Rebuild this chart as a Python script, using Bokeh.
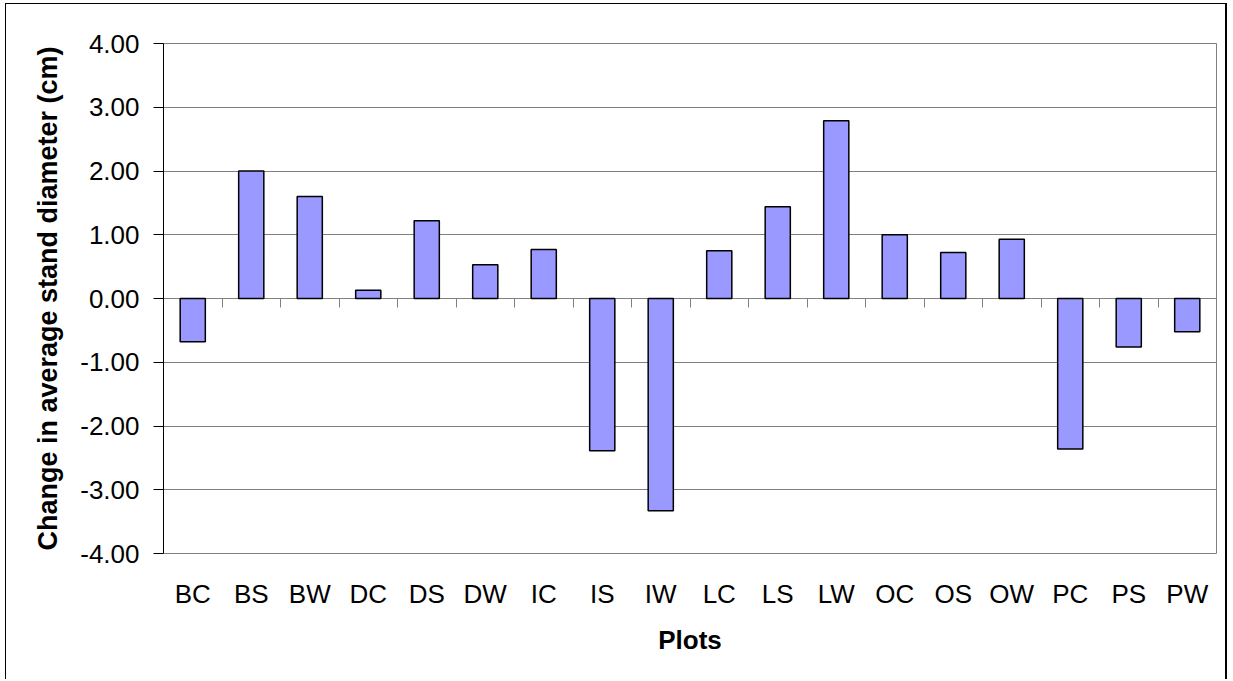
from bokeh.plotting import figure
from bokeh.models import (ColumnDataSource, Range1d, LinearAxis,
                          FixedTicker, NumeralTickFormatter, CustomJSTickFormatter)
from bokeh.embed import file_html
from bokeh.resources import INLINE

categories = ["BC", "BS", "BW", "DC", "DS", "DW", "IC", "IS", "IW",
              "LC", "LS", "LW", "OC", "OS", "OW", "PC", "PS", "PW"]
values = [-0.68, 2.00, 1.60, 0.13, 1.22, 0.53, 0.77, -2.39, -3.33,
          0.75, 1.44, 2.79, 1.00, 0.72, 0.93, -2.36, -0.76, -0.52]
y_ticks = [-4, -3, -2, -1, 0, 1, 2, 3, 4]
y_title = "Change in average stand diameter (cm)"
x_title = "Plots"

FONT = "Liberation Sans"

n = len(categories)
centers = [i + 0.5 for i in range(n)]
bounds = list(range(n + 1))

src = ColumnDataSource(data=dict(x=centers, cat=categories, val=values))

p = figure(
    x_range=Range1d(0, n),
    y_range=Range1d(y_ticks[0], y_ticks[-1]),
    width=1222, height=676,
    output_backend="svg", toolbar_location=None,
    min_border_left=157, min_border_right=12,
    min_border_top=39, min_border_bottom=127,
    background_fill_color="white", border_fill_color="white",
)
p.styles = {"margin-left": "5px", "margin-top": "3px",
            "border-left": "1px solid black", "border-top": "1px solid black",
            "border-right": "2px solid black"}

p.outline_line_color = "#808080"
p.outline_line_width = 1

p.vbar(x="x", top="val", bottom=0, width=0.43, source=src,
       fill_color="#9999FF", line_color="black", line_width=1.5)

# grid
p.xgrid.visible = False
p.ygrid.ticker = FixedTicker(ticks=y_ticks)
p.ygrid.grid_line_color = "#808080"
p.ygrid.grid_line_width = 1

# y axis
ya = p.yaxis[0]
ya.ticker = FixedTicker(ticks=y_ticks)
ya.formatter = NumeralTickFormatter(format="0.00")
ya.axis_line_color = "black"
ya.major_tick_line_color = "black"
ya.major_tick_out = 10
ya.major_tick_in = 0
ya.minor_tick_line_color = None
ya.major_label_standoff = 14
ya.major_label_text_font = FONT
ya.major_label_text_font_size = "26px"
ya.major_label_text_color = "black"
ya.axis_label = y_title
ya.axis_label_text_font = FONT
ya.axis_label_text_font_size = "27px"
ya.axis_label_text_font_style = "bold"
ya.axis_label_text_color = "black"
ya.axis_label_standoff = 14

# bottom axis (category labels only)
xa = p.xaxis[0]
xa.ticker = FixedTicker(ticks=centers)
xa.formatter = CustomJSTickFormatter(args=dict(cats=categories),
                                     code="return cats[Math.floor(tick)];")
xa.axis_line_color = None
xa.major_tick_line_color = None
xa.minor_tick_line_color = None
xa.major_tick_out = 0
xa.major_tick_in = 0
xa.major_label_standoff = 25
xa.major_label_text_font = FONT
xa.major_label_text_font_size = "26px"
xa.major_label_text_color = "black"
xa.axis_label = x_title
xa.axis_label_text_font = FONT
xa.axis_label_text_font_size = "26px"
xa.axis_label_text_font_style = "bold"
xa.axis_label_text_color = "black"
xa.axis_label_standoff = 13

# zero line with boundary ticks between categories
za = LinearAxis(fixed_location=0, ticker=FixedTicker(ticks=bounds))
za.axis_line_color = "#808080"
za.major_tick_line_color = "#808080"
za.major_tick_in = 9
za.major_tick_out = 0
za.minor_tick_line_color = None
za.major_label_text_font_size = "0px"
za.major_label_text_color = None
za.level = "underlay"
p.add_layout(za, "above")

open("out.html", "w").write(file_html(p, INLINE))
